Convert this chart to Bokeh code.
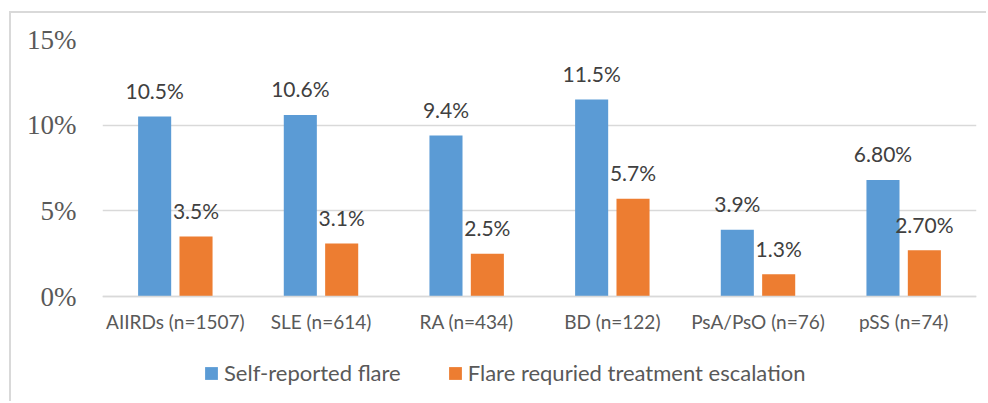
from bokeh.plotting import figure
from bokeh.models import (ColumnDataSource, FactorRange, FixedTicker, Legend, LegendItem, Range1d)
from bokeh.transform import dodge
from bokeh.core.properties import value
from bokeh.embed import file_html
from bokeh.resources import INLINE

categories = ["AIIRDs (n=1507)", "SLE (n=614)", "RA (n=434)", "BD (n=122)",
              "PsA/PsO (n=76)", "pSS (n=74)"]
self_reported = [10.5, 10.6, 9.4, 11.5, 3.9, 6.8]
self_reported_labels = ["10.5%", "10.6%", "9.4%", "11.5%", "3.9%", "6.80%"]
escalation = [3.5, 3.1, 2.5, 5.7, 1.3, 2.7]
escalation_labels = ["3.5%", "3.1%", "2.5%", "5.7%", "1.3%", "2.70%"]
series_names = ["Self-reported flare", "Flare requried treatment escalation"]
y_ticks = [0, 5, 10, 15]
y_tick_labels = ["0%", "5%", "10%", "15%"]

src = ColumnDataSource(dict(cat=categories, a=self_reported, al=self_reported_labels,
                            b=escalation, bl=escalation_labels))

BLUE = "#5B9BD5"
ORANGE = "#ED7D31"
GREY = "#595959"
GRID = "#D9D9D9"
SANS = "Lato"

# frame: 15% at page y=39, 0% at page y=296, frame extends to the page bottom (403)
px_per_unit = (296 - 39) / 15.0
y_start = -(403 - 296) / px_per_unit

p = figure(x_range=FactorRange(factors=categories), y_range=Range1d(y_start, 15),
           width=977, height=390, output_backend="svg", toolbar_location=None,
           min_border_left=91, min_border_right=12, min_border_top=26, min_border_bottom=0)
p.outline_line_color = None
p.background_fill_color = "white"
p.border_fill_color = "white"
p.margin = (11, 0, 0, 9)
p.styles = {"border-left": "2px solid #D9D9D9", "border-top": "2px solid #D9D9D9"}

off = 0.142
w = 0.227
rb = p.vbar(x=dodge("cat", -off, range=p.x_range), top="a", width=w, source=src,
            fill_color=BLUE, line_color=None)
ro = p.vbar(x=dodge("cat", off, range=p.x_range), top="b", width=w, source=src,
            fill_color=ORANGE, line_color=None)

p.text(x=dodge("cat", -off, range=p.x_range), y="a", text="al", source=src,
       text_align="center", text_baseline="alphabetic", y_offset=-26,
       text_font=value(SANS), text_font_size="21px", text_color="#404040")
p.text(x=dodge("cat", off, range=p.x_range), y="b", text="bl", source=src,
       text_align="center", text_baseline="alphabetic", y_offset=-26,
       text_font=value(SANS), text_font_size="21px", text_color="#404040")

p.xgrid.grid_line_color = None
p.ygrid.grid_line_color = GRID
p.ygrid.grid_line_width = 1.5
p.yaxis.ticker = FixedTicker(ticks=y_ticks)
p.yaxis.major_label_overrides = {t: l for t, l in zip(y_ticks, y_tick_labels)}
p.yaxis.axis_line_color = None
p.yaxis.major_tick_line_color = None
p.yaxis.minor_tick_line_color = None
p.yaxis.major_label_text_font = "Liberation Serif"
p.yaxis.major_label_text_font_size = "27px"
p.yaxis.major_label_text_color = GREY
p.yaxis.major_label_standoff = 20

p.xaxis.fixed_location = 0
p.xaxis.axis_line_color = GRID
p.xaxis.axis_line_width = 1.5
p.xaxis.major_tick_line_color = None
p.xaxis.minor_tick_line_color = None
p.xaxis.major_label_text_font = SANS
p.xaxis.major_label_text_font_size = "19px"
p.xaxis.major_label_text_color = GREY
p.xaxis.major_label_standoff = 7

legend = Legend(items=[LegendItem(label=series_names[0], renderers=[rb]),
                       LegendItem(label=series_names[1], renderers=[ro])],
                location=(101, 17), orientation="horizontal",
                glyph_width=16, glyph_height=16, label_standoff=5, spacing=46,
                padding=0, margin=0, border_line_color=None, background_fill_alpha=0,
                label_text_font=SANS, label_text_font_size="22px", label_text_color=GREY)
p.add_layout(legend, "center")

open("out.html", "w").write(file_html(p, INLINE))
